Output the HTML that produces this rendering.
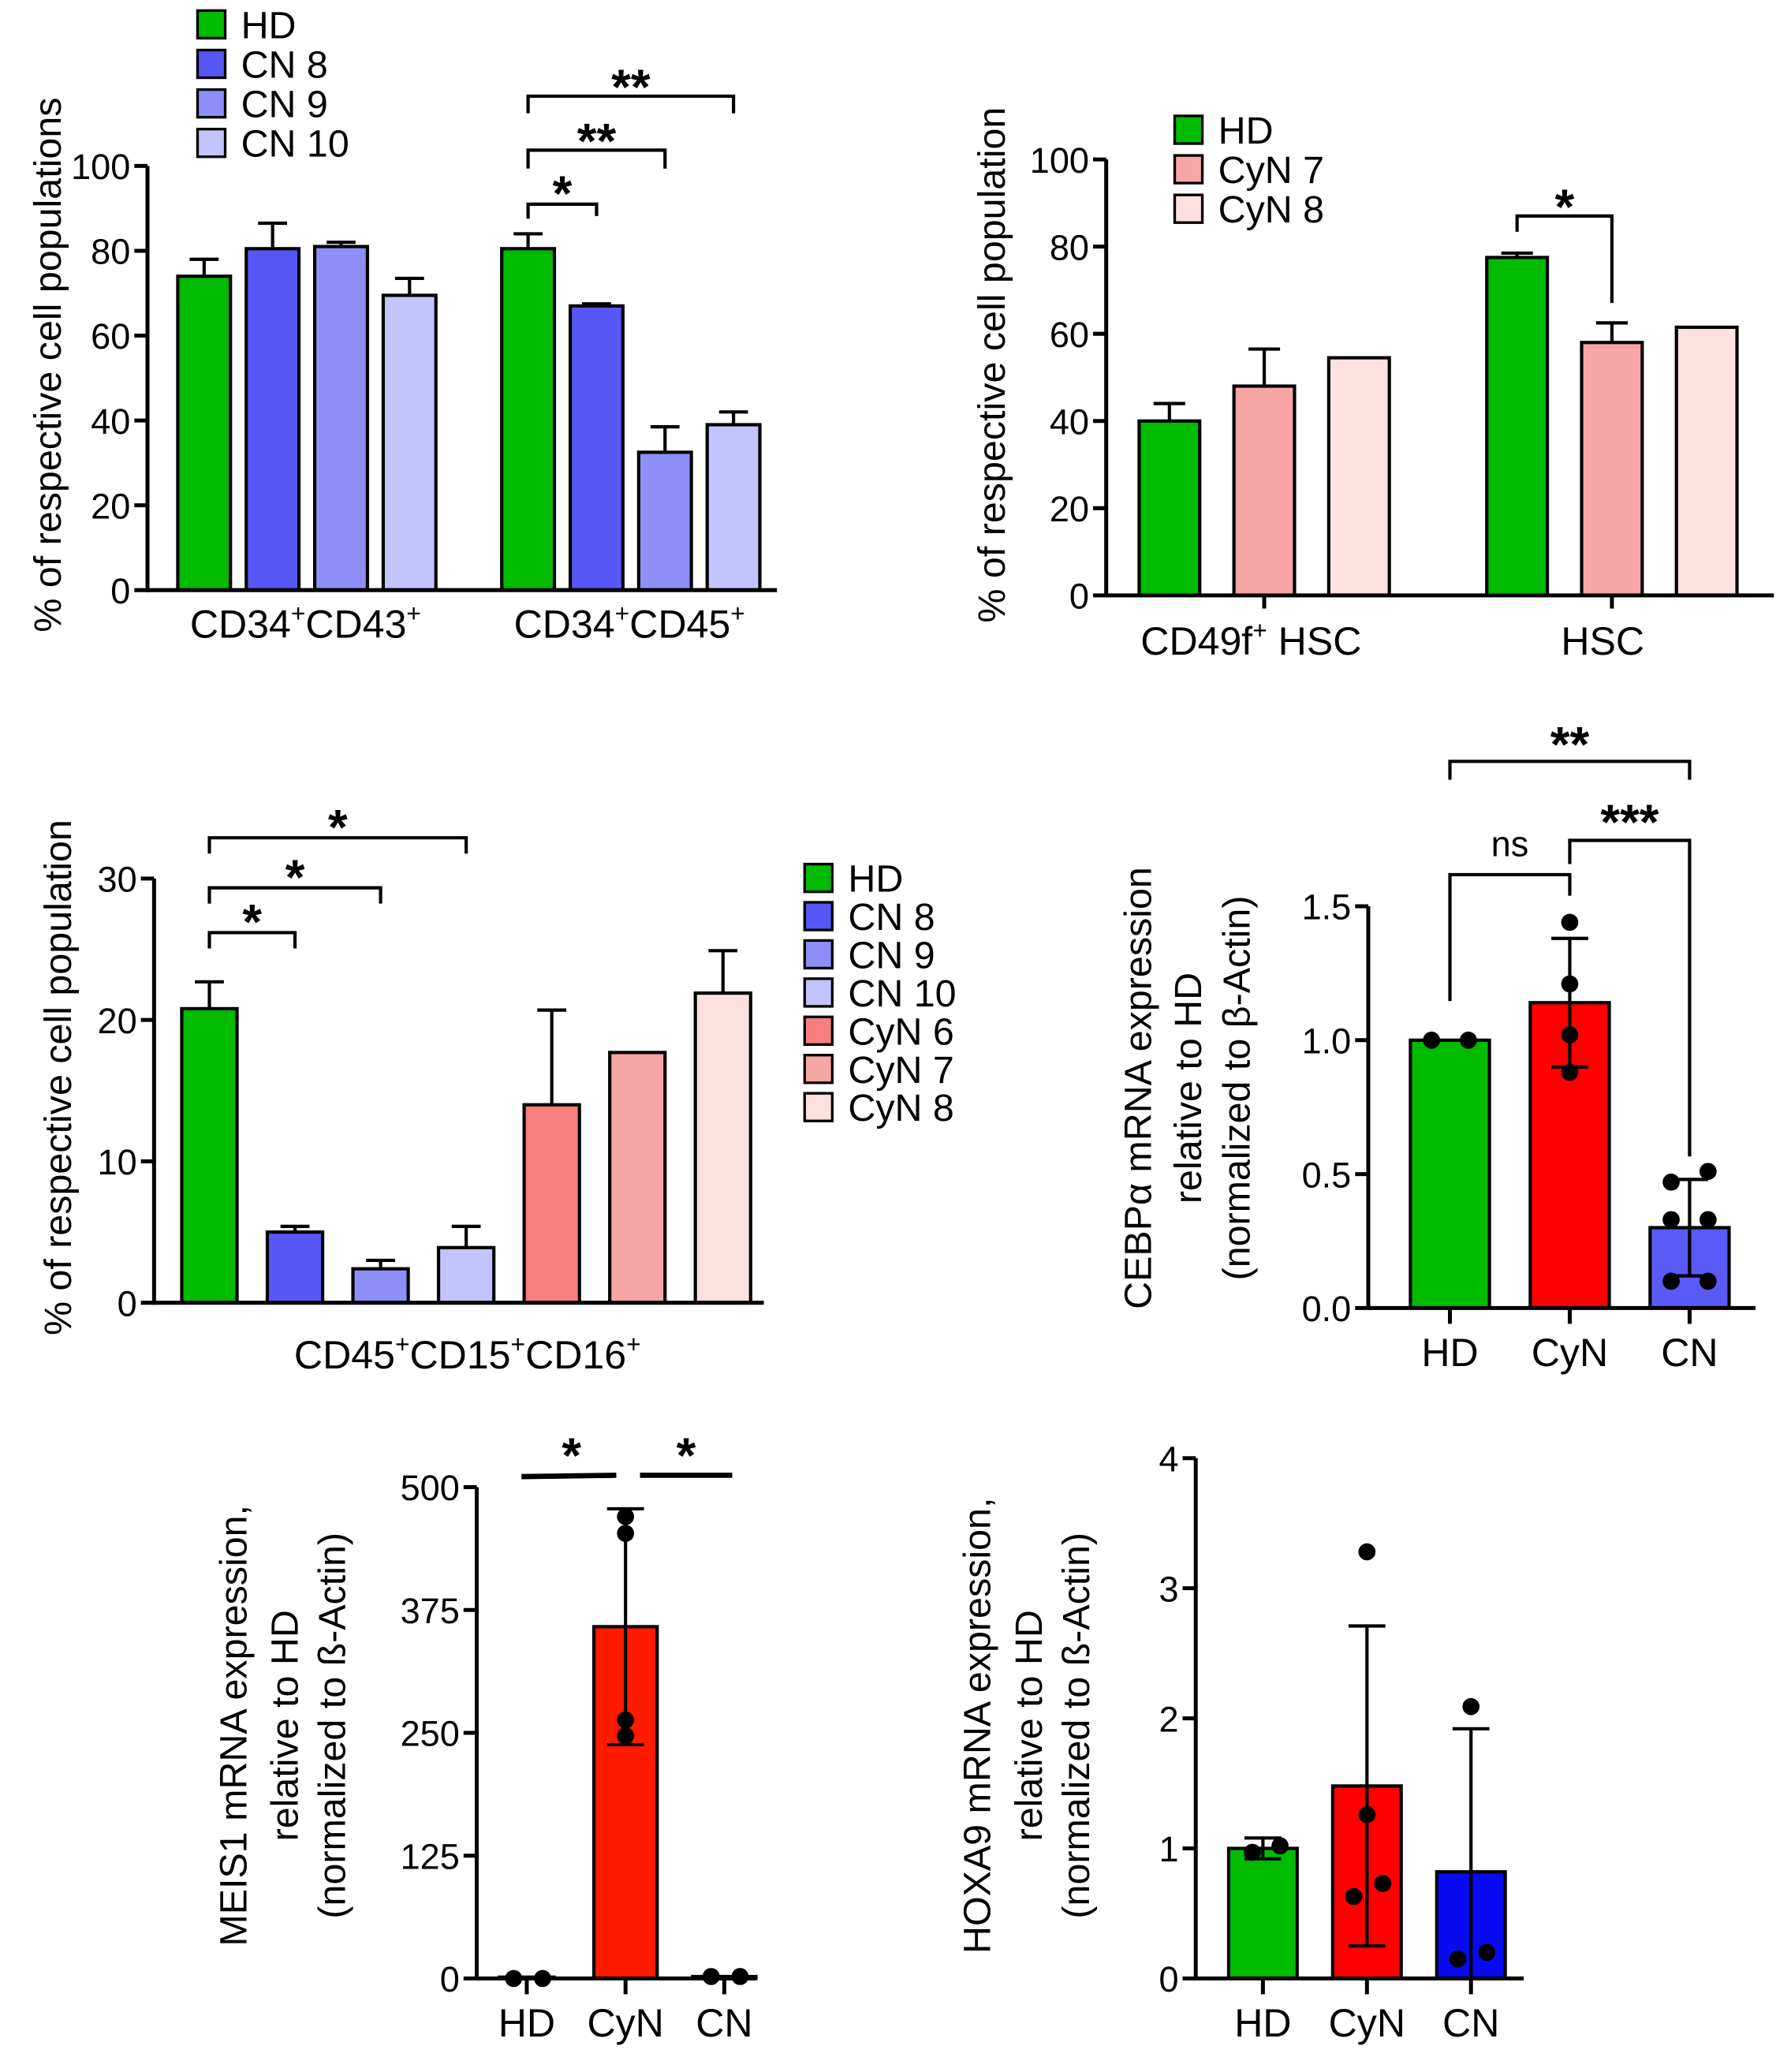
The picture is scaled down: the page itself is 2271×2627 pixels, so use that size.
<!DOCTYPE html>
<html><head><meta charset="utf-8"><style>
html,body{margin:0;padding:0;background:#fff;}
svg{display:block;font-family:"Liberation Sans",sans-serif;}
</style></head><body>
<svg id="fig" width="2271" height="2627" viewBox="0 0 1360 1573" preserveAspectRatio="none"></svg>
<script>
// ---------- data ----------
const p1Groups = ["CD34+CD43+", "CD34+CD45+"];
const p1Series = ["HD", "CN 8", "CN 9", "CN 10"];
const p1Values = [[74, 80.5, 81, 69.5], [80.5, 67, 32.5, 39]];
const p1Errors = [[4, 6, 1, 4], [3.5, 0.5, 6, 3]];
const p1Ticks = [0, 20, 40, 60, 80, 100];

const p2Groups = ["CD49f+ HSC", "HSC"];
const p2Series = ["HD", "CyN 7", "CyN 8"];
const p2Values = [[40, 48, 54.5], [77.5, 58, 61.5]];
const p2Errors = [[4, 8.5, 0], [1, 4.5, 0]];
const p2Ticks = [0, 20, 40, 60, 80, 100];

const p3Series = ["HD", "CN 8", "CN 9", "CN 10", "CyN 6", "CyN 7", "CyN 8"];
const p3Values = [20.8, 5, 2.4, 3.9, 14, 17.7, 21.9];
const p3Errors = [1.9, 0.4, 0.6, 1.5, 6.7, 0, 3];
const p3Ticks = [0, 10, 20, 30];

const p4Cats = ["HD", "CyN", "CN"];
const p4Means = [1.0, 1.14, 0.30];
const p4Errors = [0, 0.24, 0.18];
const p4PointsHD = [1.0, 1.0];
const p4PointsCyN = [1.44, 1.21, 1.02, 0.88];
const p4PointsCN = [0.51, 0.47, 0.33, 0.33, 0.10, 0.10];
const p4Ticks = [0, 0.5, 1.0, 1.5];

const p5Cats = ["HD", "CyN", "CN"];
const p5Means = [0, 358, 2];
const p5Errors = [0, 120, 0];
const p5PointsHD = [0, 0];
const p5PointsCyN = [470, 453, 263, 247];
const p5PointsCN = [2, 2];
const p5Ticks = [0, 125, 250, 375, 500];

const p6Cats = ["HD", "CyN", "CN"];
const p6Means = [1.0, 1.48, 0.82];
const p6Errors = [0.08, 1.23, 1.1];
const p6PointsHD = [0.97, 1.02];
const p6PointsCyN = [3.28, 1.26, 0.63, 0.73];
const p6PointsCN = [0.15, 0.2, 2.09];
const p6Ticks = [0, 1, 2, 3, 4];

// ---------- helpers ----------
const NS = "http://www.w3.org/2000/svg";
const svg = document.getElementById("fig");
const TICK = 27, TITLE = 29, XLAB = 30, LEG = 29, STAR = 38;
function el(tag, attrs, parent, text) {
  const e = document.createElementNS(NS, tag);
  for (const k in attrs) e.setAttribute(k, attrs[k]);
  if (text !== undefined) e.textContent = text;
  (parent || svg).appendChild(e);
  return e;
}
function grp(name) {
  const g = el("g", {});
  
  
  return g;
}
function line(g, x1, y1, x2, y2, w, name) {
  const l = el("line", {x1, y1, x2, y2, stroke: "#000", "stroke-width": w || 3}, g);
  
  
  return l;
}
function txt(g, x, y, s, size, anchor, name, extra) {
  const t = el("text", Object.assign({x, y, "font-size": size, "text-anchor": anchor || "middle", fill: "#000"}, extra || {}), g, s);
  
  
  return t;
}
function supLabel(g, x, y, parts, name) {
  const t = el("text", {x, y, "font-size": XLAB, "text-anchor": "middle"}, g);
  
  
  parts.forEach(p => {
    el("tspan", p[1] ? {"font-size": 19, dy: -12} : {dy: p[2] || 0}, t, p[0]);
  });
  return t;
}
function yAxis(g, x, yFn, ticks, top, bottom, fmt) {
  line(g, x, top, x, bottom, 3, 'y-axis-line');
  ticks.forEach(v => {
    const y = yFn(v);
    line(g, x - 10, y, x, y, 3, 'y-tick');
    txt(g, x - 13, y + 10, fmt ? fmt(v) : String(v), TICK, "end", 'y-tick-label');
  });
}
function rotTitle(g, lines, xs, cy, name) {
  lines.forEach((s, i) => {
    txt(g, xs[i], cy + 10, s, TITLE, "middle", name + (lines.length > 1 ? '-line-' + (i + 1) : ''),
      {transform: `rotate(-90 ${xs[i]} ${cy})`});
  });
}
function bar(g, x, w, y0, y, fill, name) {
  const r = el("rect", {x, y, width: w, height: y0 - y, fill, stroke: "#000", "stroke-width": 2.5}, g);
  
  
}
function errUp(g, cx, yTop, yVal, cap) {
  line(g, cx, yVal, cx, yTop, 2.5, 'error-bar');
  line(g, cx - cap, yTop, cx + cap, yTop, 2.5, 'error-cap');
}
function bracket(g, x1, x2, yTop, l1, l2, label, ly, name) {
  const p = el("polyline", {points: `${x1},${l1} ${x1},${yTop} ${x2},${yTop} ${x2},${l2}`, fill: "none", stroke: "#000", "stroke-width": 2.5}, g);
  
  
  txt(g, (x1 + x2) / 2, label === "ns" ? ly : ly + 10, label, label === "ns" ? 27 : STAR, "middle", name + '-label', label === "ns" ? {} : {"font-weight": "bold"});
}
function dot(g, x, y) {
  const c = el("circle", {cx: x, cy: y, r: 6.5, fill: "#000"}, g);
  
  
}
function legend(g, x, y0, step, names, colors) {
  names.forEach((n, i) => {
    const y = y0 + i * step;
    const r = el("rect", {x, y, width: 21, height: 21, fill: colors[i], stroke: "#000", "stroke-width": 2}, g);
    
    
    txt(g, x + 33, y + 21, n, LEG, "start", 'legend-entry');
  });
}
const GREEN = "#00bb00", CN8 = "#5757f6", CN9 = "#8e8ef8", CN10 = "#c4c4fc",
      CYN6 = "#f77f7f", CYN7 = "#f8a5a5", CYN8 = "#fde0e0", RED = "#ff1a00";

// ---------- panel 1 ----------
(function () {
  const g = grp('panel-cd34-populations');
  const y0 = 448, yTop = 126, ax = 112;
  const y = v => y0 - (v / 100) * (y0 - yTop);
  const colors = [GREEN, CN8, CN9, CN10];
  const gStart = [135, 381], bw = 40, gap = 52;
  p1Values.forEach((vals, gi) => {
    vals.forEach((v, si) => {
      const x = gStart[gi] + si * gap;
      if (p1Errors[gi][si] > 0) errUp(g, x + bw / 2, y(v + p1Errors[gi][si]), y(v), 11);
      bar(g, x, bw, y0, y(v), colors[si], 'bar-' + p1Series[si].replace(' ', '') + '-g' + (gi + 1));
    });
  });
  yAxis(g, ax, y, p1Ticks, yTop, y0 + 1.5);
  line(g, ax, y0, 590, y0, 3, 'x-axis-line');
  supLabel(g, 232, 484, [["CD34"], ["+", 1], ["CD43", 0, 12], ["+", 1]], 'x-label-cd34-cd43');
  supLabel(g, 478, 484, [["CD34"], ["+", 1], ["CD45", 0, 12], ["+", 1]], 'x-label-cd34-cd45');
  rotTitle(g, ["% of respective cell populations"], [36], 277, 'y-axis-title');
  legend(g, 150, 8, 30, p1Series, colors);
  const cx = i => gStart[1] + i * gap + bw / 2;
  bracket(g, cx(0), cx(1), 155, 166, 164, "*", 150, 'sig-bracket-hd-cn8');
  bracket(g, cx(0), cx(2), 114, 128, 128, "**", 110, 'sig-bracket-hd-cn9');
  bracket(g, cx(0), cx(3), 73, 86, 86, "**", 69, 'sig-bracket-hd-cn10');
})();

// ---------- panel 2 ----------
(function () {
  const g = grp('panel-hsc-populations');
  const y0 = 452, yTop = 121, ax = 840;
  const y = v => y0 - (v / 100) * (y0 - yTop);
  const colors = [GREEN, CYN7, CYN8];
  const gStart = [865, 1129], bw = 46, gap = 72;
  p2Values.forEach((vals, gi) => {
    vals.forEach((v, si) => {
      const x = gStart[gi] + si * gap;
      if (p2Errors[gi][si] > 0) errUp(g, x + bw / 2, y(v + p2Errors[gi][si]), y(v), 12);
      bar(g, x, bw, y0, y(v), colors[si], 'bar-' + p2Series[si].replace(' ', '') + '-g' + (gi + 1));
    });
  });
  yAxis(g, ax, y, p2Ticks, yTop, y0 + 1.5);
  line(g, ax, y0, 1347, y0, 3, 'x-axis-line');
  line(g, 960, y0, 960, y0 + 10, 3, 'x-tick');
  line(g, 1224, y0, 1224, y0 + 10, 3, 'x-tick');
  supLabel(g, 950, 497, [["CD49f"], ["+", 1], [" HSC", 0, 12]], 'x-label-cd49f-hsc');
  txt(g, 1217, 497, "HSC", XLAB, "middle", 'x-label-hsc');
  rotTitle(g, ["% of respective cell population"], [753], 277, 'y-axis-title');
  legend(g, 892, 88, 30, p2Series, colors);
  bracket(g, 1152, 1224, 164, 176, 230, "*", 160, 'sig-bracket-hd-cyn7');
})();

// ---------- panel 3 ----------
(function () {
  const g = grp('panel-cd45-cd15-cd16');
  const y0 = 989, yTop = 667, ax = 117;
  const y = v => y0 - (v / 30) * (y0 - yTop);
  const colors = [GREEN, CN8, CN9, CN10, CYN6, CYN7, CYN8];
  const bw = 42, gap = 65, x0 = 138;
  p3Values.forEach((v, i) => {
    const x = x0 + i * gap;
    if (p3Errors[i] > 0) errUp(g, x + bw / 2, y(v + p3Errors[i]), y(v), 11);
    bar(g, x, bw, y0, y(v), colors[i], 'bar-' + p3Series[i].replace(' ', ''));
  });
  yAxis(g, ax, y, p3Ticks, yTop, y0 + 1.5);
  line(g, ax, y0, 580, y0, 3, 'x-axis-line');
  supLabel(g, 355, 1039, [["CD45"], ["+", 1], ["CD15", 0, 12], ["+", 1], ["CD16", 0, 12], ["+", 1]], 'x-label-cd45-cd15-cd16');
  rotTitle(g, ["% of respective cell population"], [44], 818, 'y-axis-title');
  legend(g, 611, 656, 29, p3Series, colors);
  const cx = i => x0 + i * gap + bw / 2;
  bracket(g, cx(0), cx(1), 708, 720, 720, "*", 703, 'sig-bracket-hd-cn8');
  bracket(g, cx(0), cx(2), 674, 686, 686, "*", 669, 'sig-bracket-hd-cn9');
  bracket(g, cx(0), cx(3), 636, 648, 648, "*", 631, 'sig-bracket-hd-cn10');
})();

// ---------- dot bar panels ----------
function dotPanel(cfg) {
  const g = grp(cfg.name);
  const {y0, yTop, ax, max} = cfg;
  const y = v => y0 - (v / max) * (y0 - yTop);
  cfg.cats.forEach((c, i) => {
    const cx = cfg.centers[i];
    if (cfg.means[i] > 0) bar(g, cx - cfg.bw / 2, cfg.bw, y0, y(cfg.means[i]), cfg.colors[i], 'bar-' + c);
    else line(g, cx - 22, y0 - 1, cx + 22, y0 - 1, 2.5, 'bar-' + c);
    if (cfg.errors[i] > 0) {
      const lo = Math.max(0, cfg.means[i] - cfg.errors[i]);
      line(g, cx, y(lo), cx, y(cfg.means[i] + cfg.errors[i]), 2.5, 'error-bar');
      line(g, cx - 14, y(cfg.means[i] + cfg.errors[i]), cx + 14, y(cfg.means[i] + cfg.errors[i]), 2.5, 'error-cap');
      if (cfg.means[i] - cfg.errors[i] > 0) line(g, cx - 14, y(lo), cx + 14, y(lo), 2.5, 'error-cap');
    }
    cfg.points[i].forEach((v, k) => dot(g, cx + cfg.offsets[i][k], y(v)));
    line(g, cx, y0, cx, y0 + 12, 3, 'x-tick');
    txt(g, cx, y0 + 44, c, XLAB, "middle", 'x-label-' + c);
  });
  yAxis(g, ax, y, cfg.ticks, yTop, y0 + 1.5, cfg.fmt);
  line(g, ax, y0, cfg.xEnd, y0, 3, 'x-axis-line');
  rotTitle(g, cfg.title, cfg.titleX, cfg.titleY, 'y-axis-title');
  return g;
}

(function () {
  const g = dotPanel({
    name: 'panel-cebpa-expression', y0: 993, yTop: 688, ax: 1039, max: 1.5, xEnd: 1333,
    cats: p4Cats, centers: [1101, 1192, 1283], bw: 60, means: p4Means, errors: p4Errors,
    colors: [GREEN, "#ff0000", "#5a5af6"],
    points: [p4PointsHD, p4PointsCyN, p4PointsCN],
    offsets: [[-14, 14], [0, 0, 0, 0], [14, -14, -14, 14, -14, 14]],
    ticks: p4Ticks, fmt: v => v.toFixed(1),
    title: ["CEBPα mRNA expression", "relative to HD", "(normalized to β-Actin)"],
    titleX: [864, 902, 939], titleY: 826
  });
  bracket(g, 1101, 1192, 664, 760, 680, "ns", 650, 'sig-bracket-hd-cyn');
  bracket(g, 1192, 1283, 638, 656, 878, "***", 627, 'sig-bracket-cyn-cn');
  bracket(g, 1101, 1283, 578, 592, 592, "**", 568, 'sig-bracket-hd-cn');
})();

(function () {
  const g = dotPanel({
    name: 'panel-meis1-expression', y0: 1502, yTop: 1129, ax: 362, max: 500, xEnd: 574,
    cats: p5Cats, centers: [400, 475, 550], bw: 48, means: p5Means, errors: p5Errors,
    colors: [GREEN, RED, "#1010f0"],
    points: [p5PointsHD, p5PointsCyN, p5PointsCN],
    offsets: [[-10, 12], [0, 0, 0, 0], [-10, 12]],
    ticks: p5Ticks,
    title: ["MEIS1 mRNA expression,", "relative to HD", "(normalized to ß-Actin)"],
    titleX: [177, 216, 252], titleY: 1310
  });
  line(g, 396, 1121, 468, 1120, 4, 'sig-line-hd-cyn');
  txt(g, 434, 1118, "*", STAR, "middle", 'sig-label-hd-cyn', {"font-weight": "bold"});
  line(g, 486, 1120, 556, 1120, 4, 'sig-line-cyn-cn');
  txt(g, 521, 1118, "*", STAR, "middle", 'sig-label-cyn-cn', {"font-weight": "bold"});
})();

(function () {
  dotPanel({
    name: 'panel-hoxa9-expression', y0: 1502, yTop: 1107, ax: 908, max: 4, xEnd: 1157,
    cats: p6Cats, centers: [959, 1038, 1117], bw: 52, means: p6Means, errors: p6Errors,
    colors: [GREEN, "#ff0000", "#0a0af2"],
    points: [p6PointsHD, p6PointsCyN, p6PointsCN],
    offsets: [[-8, 13], [0, 0, -10, 12], [-10, 12, 0]],
    ticks: p6Ticks,
    title: ["HOXA9 mRNA expression,", "relative to HD", "(normalized to ß-Actin)"],
    titleX: [742, 781, 817], titleY: 1310
  });
})();
</script>
</body></html>
